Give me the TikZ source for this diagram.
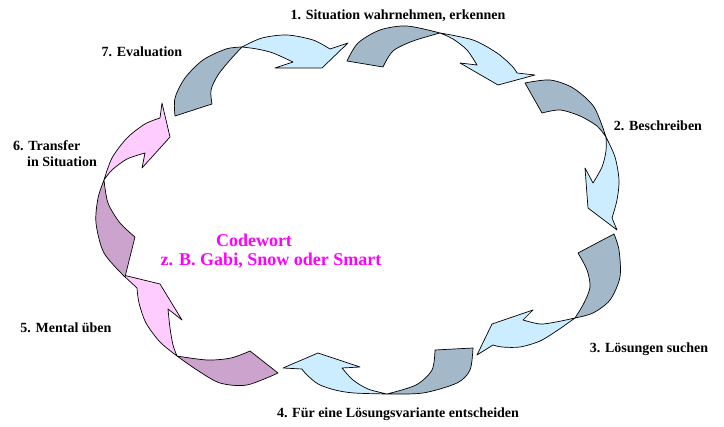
\documentclass[tikz,border=0pt]{standalone}
\usepackage{fontspec}
\setmainfont{Liberation Serif}
\begin{document}
\begin{tikzpicture}[x=1pt,y=-1pt,
  band/.style={draw=black,line width=0.7pt,line join=round},
  darkb/.style={band,fill=bluegray},
  lightb/.style={band,fill=lightblue},
  darkp/.style={band,fill=mauve},
  lightp/.style={band,fill=pinklight},
  lab/.style={font=\fontsize{14}{16}\selectfont\bfseries,inner sep=0pt},
  code/.style={font=\fontsize{18}{21}\selectfont\bfseries,text=magenta,inner sep=0pt}]
\definecolor{bluegray}{HTML}{A3B9C9}
\definecolor{lightblue}{HTML}{CCECFF}
\definecolor{mauve}{HTML}{CCA3CC}
\definecolor{pinklight}{HTML}{FFCCFF}
\definecolor{magenta}{HTML}{FF00FF}
\useasboundingbox (0,0) rectangle (724,427);
% Arrow A (7 -> 1)
\path[darkb] (175,116) -- (212,104) -- plot[smooth] coordinates {(212,104) (211,90) (218,75) (230,60) (242,47)} -- plot[smooth] coordinates {(242,47) (226,49) (203,60) (185,78) (175,98) (175,116)} -- cycle;
\path[lightb] plot[smooth] coordinates {(242,47) (262,38) (287,35) (313,40) (330,49)} -- (348,43) -- (322,68) -- (275,68) -- (293,62) -- plot[smooth] coordinates {(293,62) (273,53) (257,49) (242,47)} -- cycle;
% Arrow B (1 -> 2)
\path[darkb] (347,61) -- (383,67) -- plot[smooth] coordinates {(383,67) (393,51) (413,41) (440,33)} -- plot[smooth] coordinates {(440,33) (407,26) (380,30) (358,43) (347,61)} -- cycle;
\path[lightb] plot[smooth] coordinates {(440,33) (473,40) (497,53) (512,66) (517,73)} -- (535,75) -- (498,85) -- (460,63) -- (477,65) -- plot[smooth] coordinates {(477,65) (467,50) (453,39) (440,33)} -- cycle;
% Arrow C (2 -> 3)
\path[darkb] (525,83) -- (542,113) -- plot[smooth] coordinates {(542,113) (560,110) (580,116) (597,126) (606,137)} -- plot[smooth] coordinates {(606,137) (594,107) (573,88) (550,80) (525,83)} -- cycle;
\path[lightb] plot[smooth] coordinates {(606,137) (615,157) (619,180) (617,200) (612,218)} -- (617,230) -- (588,208) -- (585,168) -- (593,183) -- plot[smooth] coordinates {(593,183) (602,167) (606,151) (606,137)} -- cycle;
% Arrow D (3 -> 4)
\path[darkb] (578,253) -- (614,234) -- plot[smooth] coordinates {(614,234) (619,250) (620,277) (610,300) (593,313) (575,318)} -- plot[smooth] coordinates {(575,318) (584,303) (590,287) (587,270) (578,253)} -- cycle;
\path[lightb] plot[smooth] coordinates {(575,318) (558,330) (540,341) (520,347) (502,347) (493,345)} -- (477,355) -- (492,324) -- (533,310) -- (523,320) -- plot[smooth] coordinates {(523,320) (540,324) (556,322) (575,318)} -- cycle;
% Arrow E (4 -> 5)
\path[darkb] (435,350) -- (473,348) -- plot[smooth] coordinates {(473,348) (470,370) (457,383) (423,393) (387,394)} -- plot[smooth] coordinates {(387,394) (416,385) (432,370) (435,350)} -- cycle;
\path[lightb] plot[smooth] coordinates {(387,394) (354,393) (335,390) (318,384) (306,374) (302,369)} -- (283,368) -- (318,353) -- (360,367) -- (342,368) -- plot[smooth] coordinates {(342,368) (353,380) (368,389) (387,394)} -- cycle;
% Arrow F (5 -> 6)
\path[darkp] (250,351) -- (278,373) -- plot[smooth] coordinates {(278,373) (247,385) (220,383) (197,370) (177,356)} -- plot[smooth] coordinates {(177,356) (207,360) (231,358) (250,351)} -- cycle;
\path[lightp] plot[smooth] coordinates {(177,356) (160,342) (146,323) (139,303) (137,288)} -- (123,275) -- (160,284) -- (182,320) -- (168,309) -- plot[smooth] coordinates {(168,309) (170,328) (173,345) (177,356)} -- cycle;
% Arrow G (6 -> 7)
\path[darkp] (125,277) -- (135,237) -- plot[smooth] coordinates {(135,237) (120,223) (108,203) (104,180)} -- plot[smooth] coordinates {(104,180) (98,198) (96,223) (104,253) (125,277)} -- cycle;
\path[lightp] plot[smooth] coordinates {(104,180) (112,158) (127,138) (145,124) (160,118)} -- (162,103) -- (170,137) -- (142,168) -- (145,153) -- plot[smooth] coordinates {(145,153) (127,159) (112,170) (104,180)} -- cycle;
% Labels
\node[lab] (l1) at (398,16) {1. Situation wahrnehmen, erkennen};
\node[lab] (l2) at (658,126) {2. Beschreiben};
\node[lab] (l3) at (649,349) {3. Lösungen suchen};
\node[lab] (l4) at (398,414) {4. Für eine Lösungsvariante entscheiden};
\node[lab] (l5) at (66,328) {5. Mental üben};
\node[lab,anchor=west,align=left] (l6) at (13,154) {6. Transfer\\\hspace*{14pt}in Situation};
\node[lab] (l7) at (142,52) {7. Evaluation};
\node[code] (c1) at (254,240) {Codewort};
\node[code] (c2) at (271,261) {z. B. Gabi, Snow oder Smart};
\end{tikzpicture}
\end{document}
